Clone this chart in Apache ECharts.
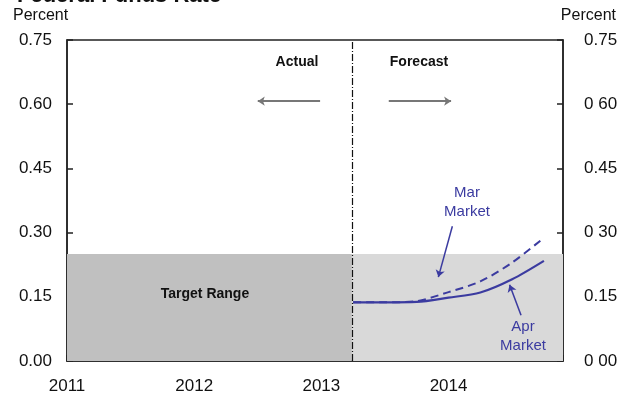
<!DOCTYPE html>
<html>
<head>
<meta charset="utf-8">
<script src="https://cdn.jsdelivr.net/npm/echarts@6/dist/echarts.min.js"></script>
<style>
  html, body { margin: 0; padding: 0; background: #fff; }
  #chart { width: 625px; height: 401px; }
</style>
</head>
<body>
<div id="chart"></div>
<script>
// quarterly points of the forecast period
const quarters = [2013.25, 2013.5, 2013.75, 2014.0, 2014.25, 2014.5, 2014.75];
const aprMarket = [0.137, 0.137, 0.138, 0.148, 0.160, 0.191, 0.234];
const marMarket = [0.137, 0.137, 0.140, 0.161, 0.186, 0.230, 0.288];

const xMin = 2011;
const xMax = 2014.9;
const forecastStart = 2013.24;
const targetTop = 0.25;
const yTicks = [0, 0.15, 0.3, 0.45, 0.6, 0.75];
const rightTickLabels = ['0 00', '0.15', '0 30', '0.45', '0 60', '0.75'];

const font = 'Liberation Sans, Arial, sans-serif';
const blue = '#3b3ba0';

let myChart = echarts.init(document.getElementById('chart'));

function pairs(xs, ys) {
  return xs.map((x, i) => [x, ys[i]]);
}

function note(x, y, text, fontSpec, color) {
  return {
    type: 'text', x: x, y: y, z: 100,
    style: { text: text, font: fontSpec, fill: color, align: 'center', verticalAlign: 'middle', lineHeight: 19 },
  };
}

let option = {
  animation: false,
  backgroundColor: '#fff',
  textStyle: { fontFamily: font },
  grid: {
    left: 67, right: 62, top: 40, bottom: 40,
    show: true,
    borderColor: '#222',
    borderWidth: 1.5,
  },
  title: {
    text: 'Federal Funds Rate',
    left: 12,
    top: -20,
    textStyle: { fontFamily: font, fontSize: 22, fontWeight: 'bold', color: '#111' },
  },
  graphic: {
    elements: [
      { type: 'text', left: 13, top: 8, z: 100, style: { text: 'Percent', font: '16px ' + font, fill: '#111' } },
      { type: 'text', right: 9, top: 8, z: 100, style: { text: 'Percent', font: '16px ' + font, fill: '#111' } },
      note(297, 62, 'Actual', 'bold 14px ' + font, '#111'),
      note(419, 62, 'Forecast', 'bold 14px ' + font, '#111'),
      note(205, 294, 'Target Range', 'bold 14px ' + font, '#111'),
      note(467, 202, 'Mar\nMarket', '15px ' + font, blue),
      note(523, 336, 'Apr\nMarket', '15px ' + font, blue),
    ],
  },
  xAxis: {
    type: 'value',
    min: xMin,
    max: xMax,
    interval: 1,
    axisLine: { lineStyle: { color: '#222', width: 1.5 } },
    axisTick: { inside: true, length: 6, lineStyle: { color: '#222', width: 1.5 } },
    axisLabel: {
      margin: 17,
      fontSize: 17,
      fontFamily: font,
      color: '#111',
      formatter: v => (Number.isInteger(v) ? String(v) : ''),
    },
    splitLine: { show: false },
  },
  yAxis: [
    {
      type: 'value',
      min: 0, max: 0.75, interval: 0.15,
      position: 'left',
      axisLine: { show: true, lineStyle: { color: '#222', width: 1.5 } },
      axisTick: { show: true, inside: true, length: 6, lineStyle: { color: '#222', width: 1.5 } },
      axisLabel: { margin: 15, fontSize: 17, fontFamily: font, color: '#111', formatter: v => v.toFixed(2) },
      splitLine: { show: false },
    },
    {
      type: 'value',
      min: 0, max: 0.75, interval: 0.15,
      position: 'right',
      axisLine: { show: true, lineStyle: { color: '#222', width: 1.5 } },
      axisTick: { show: true, inside: true, length: 6, lineStyle: { color: '#222', width: 1.5 } },
      axisLabel: {
        margin: 21, fontSize: 17, fontFamily: font, color: '#111',
        formatter: v => rightTickLabels[yTicks.findIndex(t => Math.abs(t - v) < 1e-6)] || '',
      },
      splitLine: { show: false },
    },
  ],
  series: [
    {
      name: 'shading',
      type: 'line',
      data: [],
      silent: true,
      markArea: {
        silent: true,
        data: [
          [{ coord: [xMin, 0], itemStyle: { color: '#c0c0c0' } }, { coord: [forecastStart, targetTop] }],
          [{ coord: [forecastStart, 0], itemStyle: { color: '#d9d9d9' } }, { coord: [xMax, targetTop] }],
        ],
      },
      markLine: {
        silent: true,
        symbol: 'none',
        label: { show: false },
        lineStyle: { color: '#111', width: 1.2, type: [7, 2, 1, 2] },
        data: [{ xAxis: forecastStart }],
      },
    },
    {
      name: 'arrows',
      type: 'line',
      data: [],
      silent: true,
      markLine: {
        silent: true,
        symbol: ['none', 'arrow'],
        symbolSize: [7, 7],
        label: { show: false },
        data: [
          [{ coord: [2012.99, 0.607], lineStyle: { color: '#777', width: 2, type: 'solid' } }, { coord: [2012.5, 0.607] }],
          [{ coord: [2013.53, 0.607], lineStyle: { color: '#777', width: 2, type: 'solid' } }, { coord: [2014.02, 0.607] }],
          [{ coord: [2014.03, 0.315], lineStyle: { color: blue, width: 1.5, type: 'solid' } }, { coord: [2013.92, 0.196] }],
          [{ coord: [2014.57, 0.107], lineStyle: { color: blue, width: 1.5, type: 'solid' } }, { coord: [2014.48, 0.178] }],
        ],
      },
    },
    {
      name: 'Mar Market',
      type: 'line',
      data: pairs(quarters, marMarket),
      smooth: 0.3,
      showSymbol: false,
      z: 3,
      lineStyle: { color: blue, width: 2, type: [8, 5] },
    },
    {
      name: 'Apr Market',
      type: 'line',
      data: pairs(quarters, aprMarket),
      smooth: 0.3,
      showSymbol: false,
      z: 4,
      lineStyle: { color: blue, width: 2.2 },
    },
  ],
};

myChart.setOption(option);
</script>
</body>
</html>
